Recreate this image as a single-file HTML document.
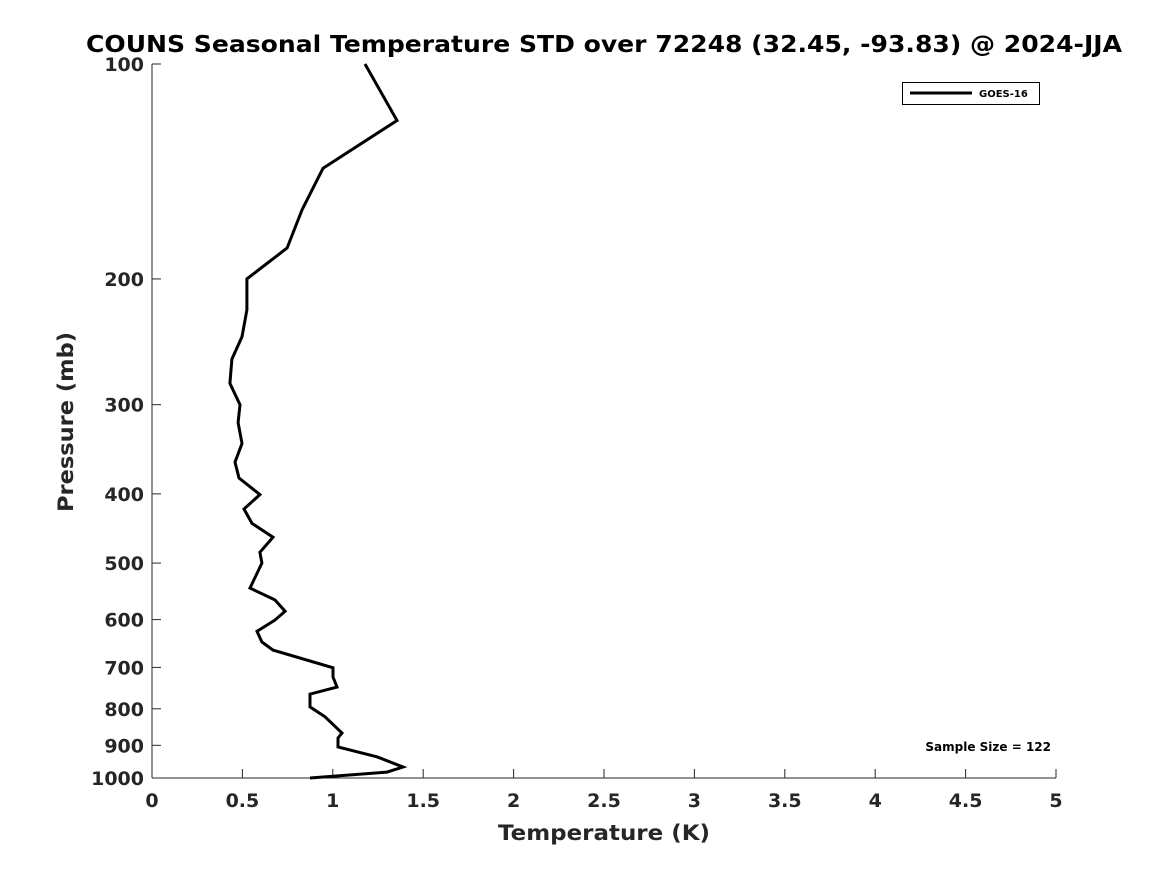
<!DOCTYPE html>
<html><head><meta charset="utf-8"><style>
body{margin:0;background:#fff;}
svg{display:block;font-family:"DejaVu Sans","Liberation Sans",sans-serif;}
</style></head><body>
<svg id="chart" width="1167" height="875">
<text x="604" y="52" text-anchor="middle" font-size="23" font-weight="bold" textLength="1036" lengthAdjust="spacingAndGlyphs">COUNS Seasonal Temperature STD over 72248 (32.45, -93.83) @ 2024-JJA</text>
<g id="axes"></g>
<text x="604" y="840" text-anchor="middle" font-size="21" font-weight="bold" fill="#262626" textLength="212" lengthAdjust="spacingAndGlyphs">Temperature (K)</text>
<text transform="translate(73,422) rotate(-90)" text-anchor="middle" font-size="21" font-weight="bold" fill="#262626" textLength="180" lengthAdjust="spacingAndGlyphs">Pressure (mb)</text>
<g>
<rect x="902.5" y="82.5" width="137" height="22" fill="#fff" stroke="#000"/>
<line x1="910" y1="93" x2="972" y2="93" stroke="#000" stroke-width="3"/>
<text x="979" y="97" font-size="10" font-weight="bold">GOES-16</text>
</g>
<text x="1051" y="751" text-anchor="end" font-size="12" font-weight="bold">Sample Size = 122</text>
</svg>
<script>
const temps=[1.178,1.355,0.946,0.830,0.747,0.525,0.525,0.498,0.442,0.431,0.487,0.476,0.498,0.459,0.481,0.597,0.509,0.553,0.669,0.597,0.608,0.542,0.680,0.736,0.680,0.581,0.608,0.669,1.001,1.001,1.023,0.874,0.874,0.957,1.051,1.029,1.029,1.244,1.388,1.300,0.874];
const pressures=[100,120,140,160,181,200,221,241,259,280,300,318,340,361,380,401,420,440,460,483,500,542,563,584,601,623,645,662,701,722,746,763,795,821,865,879,905,934,965,981,1000];
const xTicks=[0,0.5,1,1.5,2,2.5,3,3.5,4,4.5,5];
const xTickLabels=["0","0.5","1","1.5","2","2.5","3","3.5","4","4.5","5"];
const yTicks=[100,200,300,400,500,600,700,800,900,1000];
const yTickLabels=["100","200","300","400","500","600","700","800","900","1000"];
const X0=152,X1=1056,Y0=64,Y1=778;
function xs(v){return X0+(v-0)/(5-0)*(X1-X0);}
function ys(p){return Y0+(Math.log10(p)-2)*(Y1-Y0);}
const NS="http://www.w3.org/2000/svg";
const g=document.getElementById('axes');
function mk(t,a){const e=document.createElementNS(NS,t);for(const k in a)e.setAttribute(k,a[k]);g.appendChild(e);return e;}
let e=mk('line',{x1:X0,y1:Y0,x2:X0,y2:Y1,stroke:'#262626','stroke-width':1});


e=mk('line',{x1:X0,y1:Y1,x2:X1,y2:Y1,stroke:'#262626','stroke-width':1});


xTicks.forEach((v,i)=>{
 const x=xs(v);
 let t=mk('line',{x1:x,y1:Y1,x2:x,y2:Y1-9,stroke:'#262626'});
 
 
 let l=mk('text',{x:x,y:Y1+29,'text-anchor':'middle','font-size':19,'font-weight':'bold',fill:'#262626'});
 l.textContent=xTickLabels[i];
 
 
});
yTicks.forEach((v,i)=>{
 const y=ys(v);
 let t=mk('line',{x1:X0,y1:y,x2:X0+9,y2:y,stroke:'#262626'});
 
 
 let l=mk('text',{x:X0-8,y:y+7,'text-anchor':'end','font-size':19,'font-weight':'bold',fill:'#262626'});
 l.textContent=yTickLabels[i];
 
 
});
const pts=temps.map((t,i)=>xs(t).toFixed(1)+','+ys(pressures[i]).toFixed(1)).join(' ');
const line=mk('polyline',{points:pts,fill:'none',stroke:'#000','stroke-width':3,'stroke-linejoin':'miter'});


</script>
</body></html>
